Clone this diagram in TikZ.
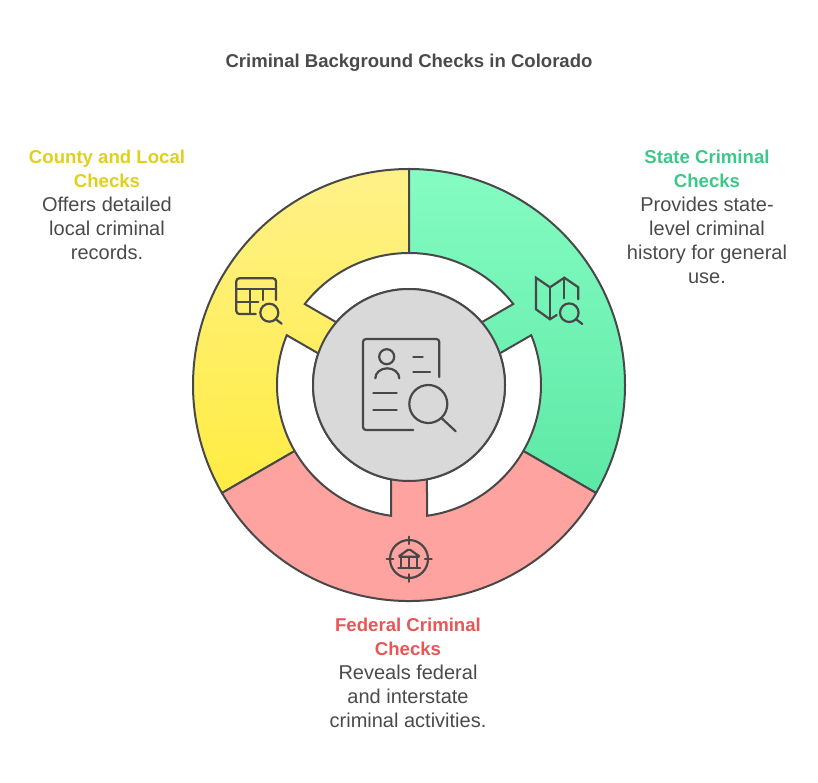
\documentclass[tikz,border=0pt]{standalone}
\usepackage{fontspec}
\setmainfont{Liberation Sans}
\usepackage{xcolor}
\definecolor{dfline}{RGB}{72,72,72}
\definecolor{dftext}{RGB}{74,74,74}
\definecolor{dfyellow}{RGB}{224,208,26}
\definecolor{dfgreen}{RGB}{60,200,138}
\definecolor{dfred}{RGB}{232,86,86}
\definecolor{sunlight}{RGB}{255,241,137}
\definecolor{sundeep}{RGB}{255,236,66}
\definecolor{mintlight}{RGB}{133,252,194}
\definecolor{mintdeep}{RGB}{93,232,166}
\definecolor{coral}{RGB}{255,163,160}
\tikzstyle{label} = [text=dftext, font=\fontsize{20}{24}\selectfont, align=center]
\tikzstyle{sector} = [draw=dfline, line width=2pt]
\tikzstyle{gap} = [sector, fill=white]
\tikzstyle{icon} = [draw=dfline, line width=2.2pt, line cap=round, rounded corners=1.5pt]
\newcommand{\headyellow}[1]{\textbf{\fontsize{18.6}{24}\selectfont\textcolor{dfyellow}{#1}}}
\newcommand{\headgreen}[1]{\textbf{\fontsize{18.6}{24}\selectfont\textcolor{dfgreen}{#1}}}
\newcommand{\headred}[1]{\textbf{\fontsize{18.6}{24}\selectfont\textcolor{dfred}{#1}}}
\begin{document}
\begin{tikzpicture}[x=1pt, y=-1pt]
\useasboundingbox (0,0) rectangle (818,783);
\node[label, font=\bfseries\fontsize{18.55}{24}\selectfont] (title) at (409,63) {Criminal Background Checks in Colorado};
\node[label] (county) at (107,205) {\headyellow{County and Local}\\\headyellow{Checks}\\Offers detailed\\local criminal\\records.};
\node[label] (state) at (707,217) {\headgreen{State Criminal}\\\headgreen{Checks}\\Provides state-\\level criminal\\history for general\\use.};
\node[label] (federal) at (408,673) {\headred{Federal Criminal}\\\headred{Checks}\\Reveals federal\\and interstate\\criminal activities.};
% wheel
\begin{scope}[shift={(409,385)}]
\draw[sector, top color=sunlight, bottom color=sundeep] (0,0) -- (90:216pt) arc[start angle=90, end angle=210, radius=216pt] -- cycle;
\draw[sector, top color=mintlight, bottom color=mintdeep] (0,0) -- (90:216pt) arc[start angle=90, end angle=-30, radius=216pt] -- cycle;
\draw[sector, fill=coral] (0,0) -- (210:216pt) arc[start angle=210, end angle=330, radius=216pt] -- cycle;
\foreach \a in {90,210,330} {
  \draw[gap] (\a-52.16:132pt) arc[start angle=\a-52.16, end angle=\a+52.16, radius=132pt] -- (\a+49.2:96pt) arc[start angle=\a+49.2, end angle=\a-49.2, radius=96pt] -- cycle;
}
\draw[sector, fill=black!15] (0,0) circle[radius=96pt];
\end{scope}
% document
\draw[icon, rounded corners=3pt] (413.3,430) -- (363,430) -- (363,339) -- (439.3,339) -- (439.3,377);
\draw[icon] (386.7,356.7) circle[radius=7.5pt];
\draw[icon] (375.3,378.3) arc[start angle=180, end angle=0, x radius=12pt, y radius=10pt];
\draw[icon] (413.3,356.7) -- (422.7,356.7);
\draw[icon] (413.3,372.3) -- (430,372.3);
\draw[icon] (373.3,393) -- (396.7,393);
\draw[icon] (373.3,409.7) -- (396.7,409.7);
\draw[icon] (428.3,404) circle[radius=19pt];
\draw[icon] (441.7,418.3) -- (455.7,431.3);
% table
\draw[icon, rounded corners=3pt] (255.7,314) -- (236.3,314) -- (236.3,278.3) -- (276,278.3) -- (276,300);
\draw[icon] (236.3,289) -- (276,289);
\draw[icon] (236.3,301.7) -- (258.3,301.7);
\draw[icon] (250,289) -- (250,314);
\draw[icon] (262.7,289) -- (262.7,300);
\draw[icon] (269.3,312.7) circle[radius=9pt];
\draw[icon] (275.5,319) -- (281.7,323.7);
% map
\draw[icon, rounded corners=0pt] (578.3,299.3) -- (578.3,287.3) -- (564.3,277.7) -- (550,287.3) -- (536,277.7) -- (536,309.3) -- (550,319.3) -- (556.7,315);
\draw[icon] (550,287.3) -- (550,319.3);
\draw[icon] (564.3,277.7) -- (564.3,298.3);
\draw[icon] (569.3,312.7) circle[radius=9.3pt];
\draw[icon] (575.7,319) -- (582.3,324);
% bank
\draw[icon] (409,559) circle[radius=19pt];
\draw[icon] (409,536.7) -- (409,544);
\draw[icon] (409,574.3) -- (409,581.7);
\draw[icon] (386.7,559) -- (393.3,559);
\draw[icon] (425,559) -- (431.7,559);
\draw[icon] (398.3,556.7) -- (409,549) -- (420,556.7) -- cycle;
\draw[icon] (401,557) -- (401,567);
\draw[icon] (409,557) -- (409,567);
\draw[icon] (417,557) -- (417,567);
\draw[icon] (398.3,567.7) -- (420,567.7);
\end{tikzpicture}
\end{document}
